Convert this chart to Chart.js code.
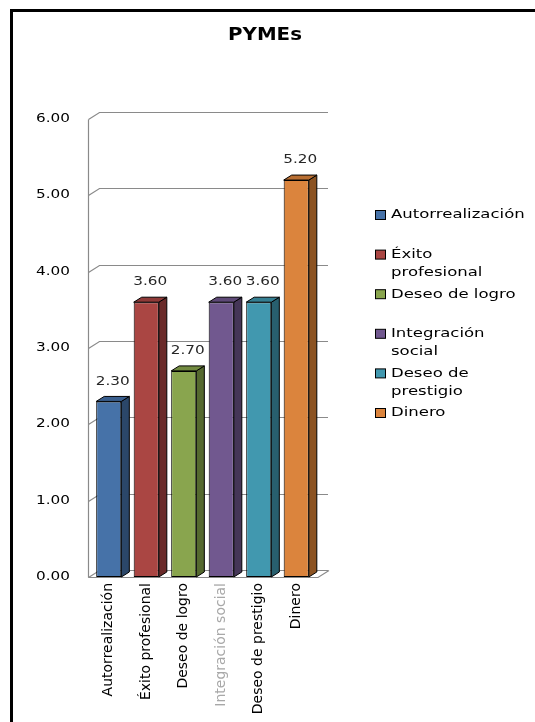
<!DOCTYPE html>
<html>
<head>
<meta charset="utf-8">
<title>PYMEs</title>
<script src="https://cdn.jsdelivr.net/npm/chart.js@4.4.0/dist/chart.umd.min.js"></script>
<style>
  html, body { margin: 0; padding: 0; background: #fff; }
  body { width: 535px; height: 722px; overflow: hidden; position: relative; }
  #marco { position: absolute; left: 10px; top: 9px; width: 560px; height: 760px; border: 3px solid #000; box-sizing: border-box; }
  #grafico { position: absolute; left: 0; top: 0; }
</style>
</head>
<body>
<div id="marco"></div>
<canvas id="grafico" width="535" height="722"></canvas>
<script>
// datos
const titulo = 'PYMEs';
const categorias = ['Autorrealización', 'Éxito profesional', 'Deseo de logro', 'Integración social', 'Deseo de prestigio', 'Dinero'];
const valores = [2.30, 3.60, 2.70, 3.60, 3.60, 5.20];
const ticksY = [0, 1, 2, 3, 4, 5, 6];

// colores de cada barra (frente, lado, tapa)
const coloresFrente = ['#4672a8', '#aa4643', '#89a54e', '#71588f', '#4198af', '#db843d'];
const coloresLado = ['#2b4769', '#6a2a29', '#55692f', '#453657', '#285f6e', '#8c5322'];
const coloresTapa = ['#3a5f8e', '#8f3a38', '#728a40', '#5e4977', '#357f92', '#b86e32'];
const coloresEtiquetaX = ['#000', '#000', '#000', '#a8a8a8', '#000', '#000'];

// profundidad del efecto 3d
const PARED_X = 11, PARED_Y = 7;
const BARRA_X = 8, BARRA_Y = 5;
const ESTIRADO = 1.27; // texto algo más ancho
const FUENTE = "'DejaVu Sans', sans-serif";

function textoAncho(ctx, txt, x, y, align, factor = ESTIRADO) {
    ctx.save();
    ctx.translate(x, y);
    ctx.scale(factor, 1);
    ctx.textAlign = align;
    ctx.fillText(txt, 0, 0);
    ctx.restore();
}

function partirTexto(ctx, txt, max) {
    const palabras = txt.split(' ');
    const lineas = [];
    let actual = '';
    palabras.forEach((p) => {
        const prueba = actual ? actual + ' ' + p : p;
        if (actual && ctx.measureText(prueba).width * ESTIRADO > max) {
            lineas.push(actual);
            actual = p;
        } else {
            actual = prueba;
        }
    });
    if (actual) lineas.push(actual);
    return lineas;
}

// paredes, barras en 3d, etiquetas y leyenda
const efecto3d = {
    id: 'efecto3d',
    beforeDatasetsDraw(chart) {
        const { ctx, chartArea: a, scales: { y } } = chart;
        const x0 = Math.round(a.left) - 1.5;
        const y0 = Math.round(y.getPixelForValue(0)) + 0.5;
        ctx.save();
        ctx.strokeStyle = '#8a8a8a';
        ctx.lineWidth = 1.2;
        // lineas de la pared del fondo
        y.ticks.forEach((t) => {
            const py = Math.round(y.getPixelForValue(t.value)) + 0.5;
            ctx.beginPath();
            ctx.moveTo(x0, py);
            ctx.lineTo(x0 + PARED_X, py - PARED_Y);
            ctx.lineTo(a.right + PARED_X + 2, py - PARED_Y);
            ctx.stroke();
        });
        // borde de la pared lateral
        ctx.beginPath();
        ctx.moveTo(x0, Math.round(y.getPixelForValue(6)) + 0.5);
        ctx.lineTo(x0, y0);
        ctx.stroke();
        // piso
        ctx.beginPath();
        ctx.moveTo(x0, y0);
        ctx.lineTo(a.right + 3, y0);
        ctx.lineTo(a.right + 3 + PARED_X, y0 - PARED_Y);
        ctx.stroke();
        ctx.restore();
    },
    afterDatasetsDraw(chart) {
        const { ctx } = chart;
        const barras = chart.getDatasetMeta(0).data;
        ctx.save();
        ctx.strokeStyle = '#000';
        ctx.lineWidth = 1;
        barras.forEach((b, i) => {
            const { x, y, base, width } = b.getProps(['x', 'y', 'base', 'width'], true);
            const l = x - width / 2, r = x + width / 2;
            // lado
            ctx.fillStyle = coloresLado[i];
            ctx.beginPath();
            ctx.moveTo(r, y);
            ctx.lineTo(r + BARRA_X, y - BARRA_Y);
            ctx.lineTo(r + BARRA_X, base - BARRA_Y);
            ctx.lineTo(r, base);
            ctx.closePath();
            ctx.fill();
            ctx.stroke();
            // tapa
            ctx.fillStyle = coloresTapa[i];
            ctx.beginPath();
            ctx.moveTo(l, y);
            ctx.lineTo(l + BARRA_X, y - BARRA_Y);
            ctx.lineTo(r + BARRA_X, y - BARRA_Y);
            ctx.lineTo(r, y);
            ctx.closePath();
            ctx.fill();
            ctx.stroke();
            // valor
            ctx.fillStyle = '#262626';
            ctx.font = '12px ' + FUENTE;
            ctx.textBaseline = 'middle';
            textoAncho(ctx, valores[i].toFixed(2), x + 4, y - 20, 'center');
        });
        ctx.restore();
    },
    afterDraw(chart) {
        const { ctx, scales: { y } } = chart;
        ctx.save();
        ctx.fillStyle = '#000';
        ctx.textBaseline = 'middle';
        // titulo centrado en todo el lienzo
        ctx.font = 'bold 18px ' + FUENTE;
        textoAncho(ctx, titulo, 265, 35, 'center', 1.1);
        // etiquetas del eje y
        ctx.font = '12px ' + FUENTE;
        y.ticks.forEach((t) => {
            textoAncho(ctx, t.value.toFixed(2), 70, y.getPixelForValue(t.value), 'right');
        });
        // leyenda
        ctx.font = '13px ' + FUENTE;
        categorias.forEach((c, i) => {
            const py = 215 + i * 39.6;
            ctx.fillStyle = coloresFrente[i];
            ctx.fillRect(375.5, py - 4.5, 10, 9);
            ctx.strokeStyle = '#000';
            ctx.strokeRect(375.5, py - 4.5, 10, 9);
            ctx.fillStyle = '#000';
            partirTexto(ctx, c, 136).forEach((linea, k) => {
                textoAncho(ctx, linea, 391, py + k * 18, 'left');
            });
        });
        ctx.restore();
    },
};

const ctx = document.getElementById('grafico').getContext('2d');
const grafico = new Chart(ctx, {
    type: 'bar',
    data: {
        labels: categorias,
        datasets: [{
            label: titulo,
            data: valores,
            backgroundColor: coloresFrente,
            borderColor: '#000',
            borderWidth: 1,
            borderSkipped: false,
            barPercentage: 0.67,
            categoryPercentage: 1,
        }],
    },
    options: {
        responsive: false,
        animation: false,
        layout: { padding: { left: 0, right: 220, top: 119, bottom: 0 } },
        plugins: {
            legend: { display: false },
            tooltip: { enabled: false },
            title: { display: false },
        },
        scales: {
            x: {
                grid: { display: false, drawTicks: false },
                border: { display: false },
                ticks: {
                    minRotation: 90,
                    maxRotation: 90,
                    padding: 6,
                    autoSkip: false,
                    color: (c) => coloresEtiquetaX[c.index],
                    font: { family: FUENTE, size: 14 },
                },
                afterFit(scale) { scale.height = 145; },
            },
            y: {
                min: ticksY[0],
                max: ticksY[ticksY.length - 1],
                grid: { display: false, drawTicks: false },
                border: { display: false },
                ticks: { display: false, stepSize: 1 },
                afterFit(scale) { scale.width = 90; },
            },
        },
    },
    plugins: [efecto3d],
});
</script>
</body>
</html>
